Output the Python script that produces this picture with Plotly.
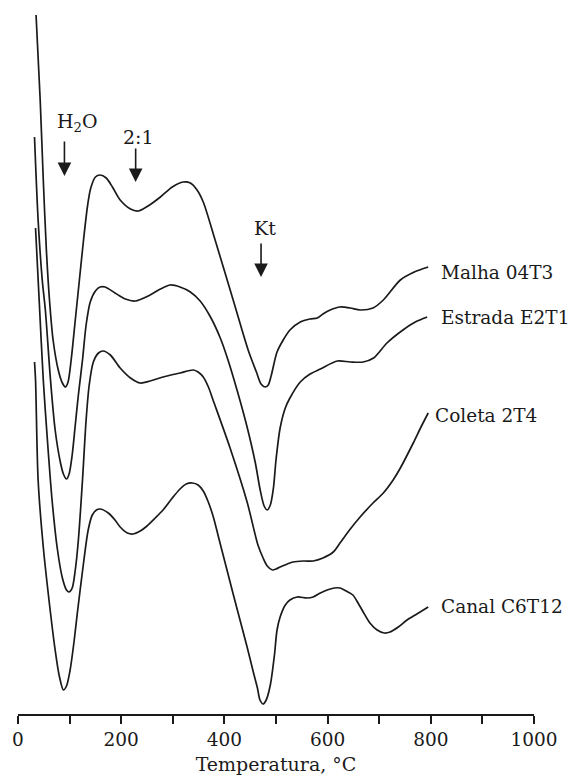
import plotly.graph_objects as go

# ---- data (temperature in °C, DTA signal in arbitrary units, offset per curve) ----
malha_T = [35, 43, 49, 55, 61, 68, 78, 86, 92, 97, 103, 111, 119, 127, 135, 141, 150, 159,
           171, 183, 198, 218, 233, 252, 276, 299, 320, 334, 347, 359, 382, 417, 446, 462, 471,
           479, 485, 491, 502, 514, 527, 547, 566, 580, 591, 605, 624, 644, 663, 688, 708, 741,
           768, 795]
malha_S = [699, 614, 534, 464, 414, 374, 344, 331, 327, 332, 354, 394, 434, 474, 509, 526, 537, 539,
           536, 527, 514, 505, 503, 508, 517, 527, 532, 531, 524, 512, 474, 414, 364, 342, 330,
           327, 329, 339, 362, 374, 384, 392, 395, 396, 400, 404, 407, 406, 404, 406, 414, 434,
           442, 447]

estrada_T = [32, 39, 47, 53, 63, 72, 82, 88, 94, 99, 105, 111, 117, 125, 132, 140, 150, 159, 169,
             188, 208, 227, 256, 276, 295, 314, 334, 353, 373, 392, 407, 425, 444, 460, 469, 477,
             483, 489, 495, 500, 508, 518, 527, 547, 566, 586, 619, 644, 669, 689, 715, 746, 770, 793]
estrada_S = [577, 494, 434, 404, 334, 284, 252, 240, 235, 240, 259, 289, 319, 354, 389, 412, 423,
             427, 427, 421, 415, 413, 419, 425, 429, 427, 422, 413, 397, 376, 354, 323, 287, 251,
             225, 208, 204, 209, 226, 254, 286, 306, 316, 332, 340, 345, 353, 352, 352, 356, 371,
             384, 392, 397]

coleta_T = [34, 41, 49, 57, 66, 76, 86, 94, 99, 105, 111, 117, 125, 132, 138, 146, 156, 165, 179,
            198, 218, 237, 256, 281, 314, 340, 349, 359, 369, 378, 411, 444, 465, 475, 483, 493,
            500, 508, 522, 533, 553, 572, 591, 611, 624, 644, 663, 688, 708, 727, 741, 766, 781, 795]
coleta_S = [486, 414, 334, 274, 214, 166, 136, 124, 122, 126, 144, 174, 234, 294, 329, 352, 361,
            363, 359, 346, 336, 331, 333, 337, 341, 344, 342, 337, 327, 314, 266, 212, 169, 156,
            148, 144, 145, 147, 150, 152, 153, 153, 156, 162, 171, 185, 197, 211, 221, 234, 246,
            271, 287, 301]

canal_T = [32, 34, 39, 49, 63, 72, 80, 88, 94, 101, 109, 115, 127, 136, 144, 152, 159, 175, 188,
           198, 212, 223, 237, 250, 266, 281, 299, 314, 326, 338, 349, 359, 368, 378, 392, 417, 444,
           456, 464, 469, 475, 481, 489, 497, 502, 508, 518, 527, 541, 560, 572, 586, 599, 613, 624,
           636, 649, 659, 669, 682, 696, 710, 721, 737, 754, 773, 795]
canal_S = [352, 334, 234, 167, 101, 64, 38, 24, 28, 44, 74, 101, 151, 184, 199, 204, 205, 201, 194,
           187, 181, 180, 183, 188, 196, 204, 216, 225, 230, 231, 229, 223, 213, 198, 170, 120, 67,
           42, 26, 14, 10, 14, 29, 59, 84, 97, 109, 114, 117, 116, 117, 121, 124, 126, 126, 123,
           119, 111, 102, 91, 84, 81, 82, 87, 94, 100, 107]

series_names = ["Malha 04T3", "Estrada E2T1", "Coleta 2T4", "Canal C6T12"]
label_T = [815, 815, 804, 815]
label_S = [442, 397, 299, 108]

# arrows marking peaks
arrow_text = ["H<sub>2</sub>O", "2:1", "Kt"]
arrow_T = [90, 228, 471]
arrow_tail_S = [574, 567, 472]
arrow_tip_S = [538, 532, 437]
arrow_text_T = [115, 233, 478]
arrow_text_S = [592, 577, 486]

tick_vals = [0, 100, 200, 300, 400, 500, 600, 700, 800, 900, 1000]
tick_text = ["0", "", "200", "", "400", "", "600", "", "800", "", "1000"]

FONT = "DejaVu Serif"
INK = "#1a1a1a"
FS = 19

fig = go.Figure()
for T, S in [(malha_T, malha_S), (estrada_T, estrada_S), (coleta_T, coleta_S), (canal_T, canal_S)]:
    fig.add_trace(go.Scatter(x=T, y=S, mode="lines",
                             line=dict(color=INK, width=1.7, shape="spline", smoothing=0.8),
                             hoverinfo="skip", showlegend=False))

for name, lx, ly in zip(series_names, label_T, label_S):
    fig.add_annotation(x=lx, y=ly, text=name, showarrow=False, xanchor="left", yanchor="middle",
                       font=dict(family=FONT, size=18.5, color=INK))

for txt, ax_, tail, tip, tx, ty in zip(arrow_text, arrow_T, arrow_tail_S, arrow_tip_S,
                                       arrow_text_T, arrow_text_S):
    fig.add_annotation(x=ax_, y=tip, ax=ax_, ay=tail, axref="x", ayref="y", text="",
                       showarrow=True, arrowhead=2, arrowsize=1.7, arrowwidth=1.6,
                       arrowcolor=INK, standoff=0)
    fig.add_annotation(x=tx, y=ty, text=txt, showarrow=False, xanchor="center", yanchor="middle",
                       font=dict(family=FONT, size=FS, color=INK))

# page body has an 8px default margin, so the figure is sized 568x768
fig.update_layout(
    width=568, height=768,
    margin=dict(l=10, r=42, t=0, b=62, autoexpand=False),
    paper_bgcolor="white", plot_bgcolor="white",
    font=dict(family=FONT, size=FS, color=INK),
    xaxis=dict(range=[0, 1000], tickvals=tick_vals, ticktext=tick_text, automargin=False,
               showline=True, linecolor=INK, linewidth=1.6, ticks="outside",
               ticklen=8, tickwidth=1.6, tickcolor=INK, showgrid=False, zeroline=False,
               tickfont=dict(family=FONT, size=18.5, color=INK),
               title=dict(text="Temperatura, °C", standoff=9,
                          font=dict(family=FONT, size=19, color=INK))),
    yaxis=dict(range=[0, 706], visible=False, showgrid=False, zeroline=False, automargin=False),
)

fig.write_html("out.html")
